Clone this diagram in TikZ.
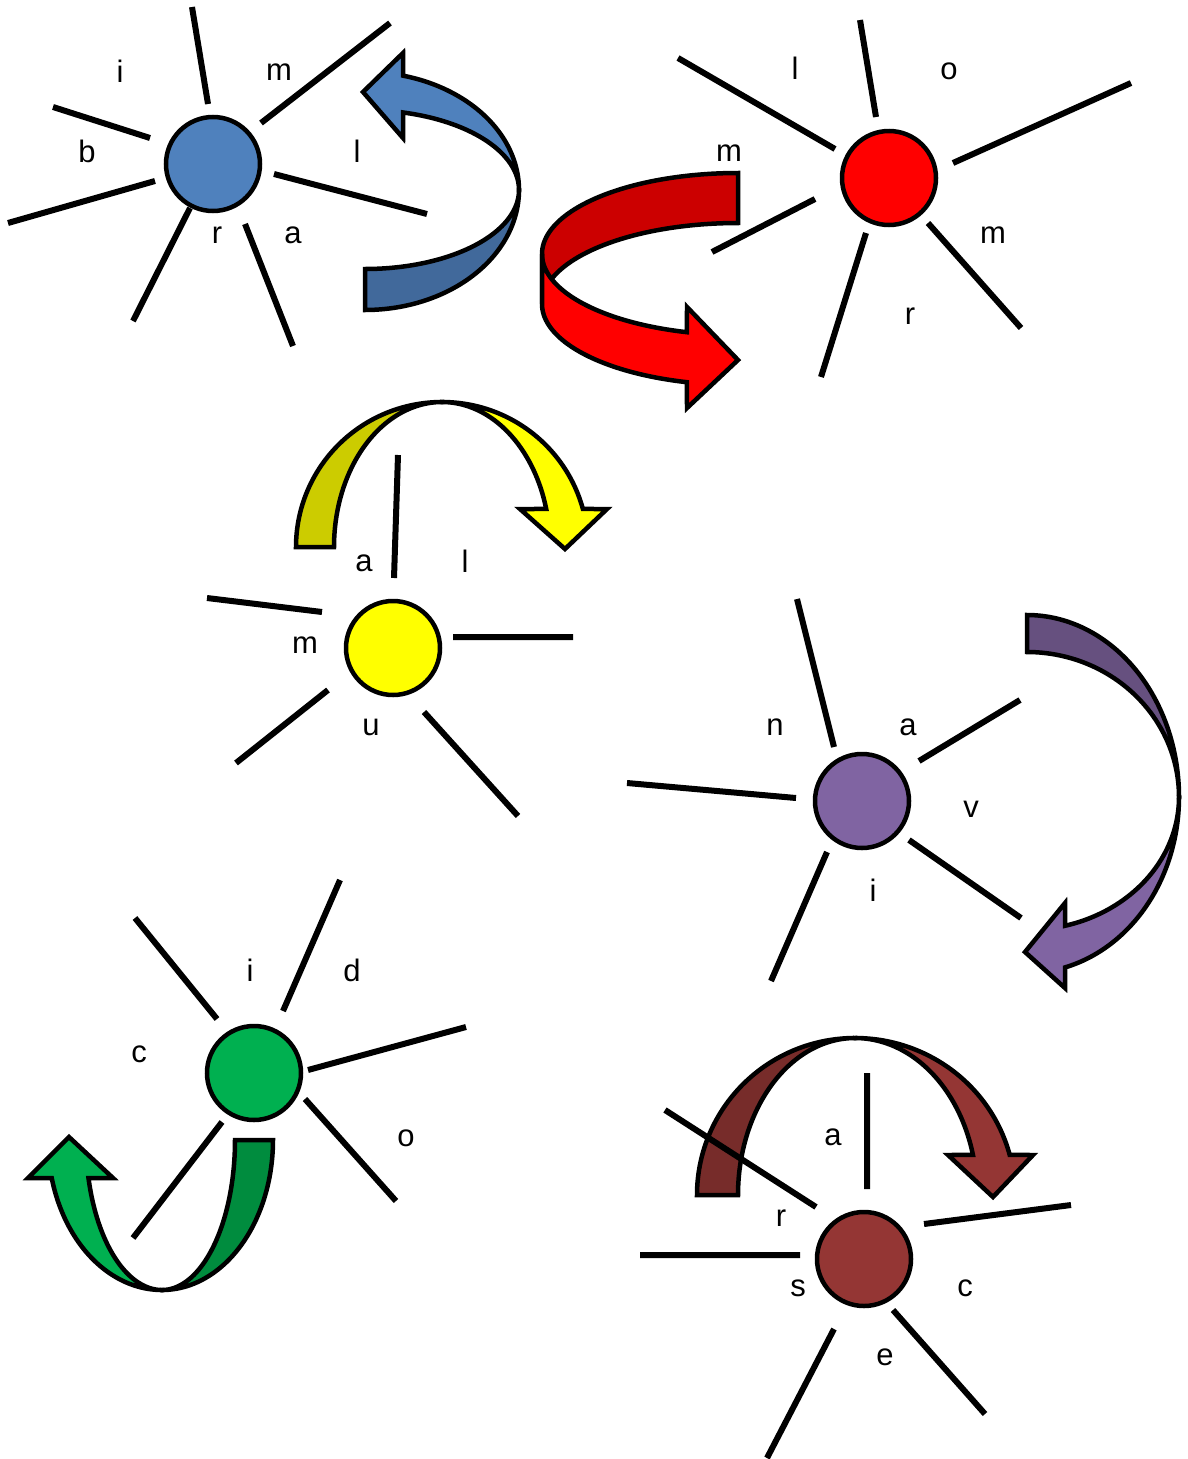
\documentclass[tikz,border=0pt]{standalone}
\usepackage{fontspec}
\setmainfont{Liberation Sans}
\definecolor{blueball}{HTML}{4F81BD}
\definecolor{bluedark}{HTML}{41699B}
\definecolor{redball}{HTML}{FF0000}
\definecolor{reddark}{HTML}{CC0000}
\definecolor{yellowball}{HTML}{FFFF00}
\definecolor{yellowdark}{HTML}{CCCC00}
\definecolor{purpleball}{HTML}{8064A2}
\definecolor{purpledark}{HTML}{66507F}
\definecolor{greenball}{HTML}{00B050}
\definecolor{greendark}{HTML}{008C3E}
\definecolor{brownball}{HTML}{943634}
\definecolor{browndark}{HTML}{772C2A}

\begin{document}
\begin{tikzpicture}[
  x=1pt, y=-1pt,
  font=\fontsize{31}{37}\selectfont,
  ball/.style={circle, draw=black, line width=4.5pt, minimum size=94pt, inner sep=0pt},
  spoke/.style={draw=black, line width=6pt},
  band/.style={draw=black, line width=4.5pt, samples=60},
  letter/.style={inner sep=0pt}
]
\useasboundingbox (0,0) rectangle (1187,1459);

% turning arrows (tail half darker, head half lighter)
\filldraw[band, fill=bluedark] plot[domain=0:90] ({365+154*cos(\x)},{190+120*sin(\x)})
  -- plot[domain=90:0] ({365+154*cos(\x)},{190+79*sin(\x)}) -- cycle;
\filldraw[band, fill=blueball] plot[domain=0:-75.7] ({365+154*cos(\x)},{190+118*sin(\x)})
  -- (403,53) -- (363,92) -- (403,138)
  -- plot[domain=-75.7:0] ({365+154*cos(\x)},{190+80*sin(\x)}) -- cycle;

\filldraw[band, fill=reddark] plot[domain=-90:-180] ({738+196*cos(\x)},{254+81*sin(\x)})
  -- plot[domain=-180:-90] ({738+196*cos(\x)},{304+81*sin(\x)}) -- cycle;
\filldraw[band, fill=redball] plot[domain=180:105.1] ({738+196*cos(\x)},{254+81*sin(\x)})
  -- (687,307) -- (738,360) -- (687,408)
  -- plot[domain=105.1:180] ({738+196*cos(\x)},{304+81*sin(\x)}) -- cycle;

\filldraw[band, fill=yellowdark] plot[domain=180:270] ({442+146*cos(\x)},{547+145*sin(\x)})
  -- plot[domain=270:180] ({442+108*cos(\x)},{547+145*sin(\x)}) -- cycle;
\filldraw[band, fill=yellowball] plot[domain=270:344.8] ({442+146*cos(\x)},{547+145*sin(\x)})
  -- (607,509) -- (565,549) -- (520,509)
  -- plot[domain=344.8:270] ({442+108*cos(\x)},{547+145*sin(\x)}) -- cycle;

\filldraw[band, fill=purpledark] plot[domain=-90:0] ({1027+152*cos(\x)},{797+182*sin(\x)})
  -- plot[domain=0:-90] ({1027+152*cos(\x)},{797+145*sin(\x)}) -- cycle;
\filldraw[band, fill=purpleball] plot[domain=0:75.5] ({1027+152*cos(\x)},{797+176*sin(\x)})
  -- (1065,988) -- (1025,952) -- (1065,903)
  -- plot[domain=75.5:0] ({1027+152*cos(\x)},{797+133*sin(\x)}) -- cycle;

\filldraw[band, fill=greendark] plot[domain=0:90] ({162+111*cos(\x)},{1140+150*sin(\x)})
  -- plot[domain=90:0] ({162+73*cos(\x)},{1140+150*sin(\x)}) -- cycle;
\filldraw[band, fill=greenball] plot[domain=90:165.3] ({162+114*cos(\x)},{1140+150*sin(\x)})
  -- (28,1178) -- (69,1137) -- (113,1178)
  -- plot[domain=165.3:90] ({162+76*cos(\x)},{1140+150*sin(\x)}) -- cycle;

\filldraw[band, fill=browndark] plot[domain=180:270] ({855+158*cos(\x)},{1195+157*sin(\x)})
  -- plot[domain=270:180] ({855+117*cos(\x)},{1195+157*sin(\x)}) -- cycle;
\filldraw[band, fill=brownball] plot[domain=270:345.2] ({855+160*cos(\x)},{1195+157*sin(\x)})
  -- (1033,1155) -- (993,1197) -- (948,1155)
  -- plot[domain=345.2:270] ({855+122*cos(\x)},{1195+157*sin(\x)}) -- cycle;

% balls
\node[ball, fill=blueball] (blue) at (213,164) {};
\node[ball, fill=redball] (red) at (889,178) {};
\node[ball, fill=yellowball] (yellow) at (393,648) {};
\node[ball, fill=purpleball] (purple) at (862,801) {};
\node[ball, fill=greenball] (green) at (254,1073) {};
\node[ball, fill=brownball] (brown) at (864,1259) {};

% spokes
\draw[spoke] (192,7) -- (208,104) (390,23) -- (261,123) (53,107) -- (150,138)
  (8,223) -- (155,181) (274,174) -- (427,214) (190,208) -- (133,321) (245,224) -- (293,346);
\draw[spoke] (860,20) -- (876,117) (678,58) -- (835,149) (1131,83) -- (953,163)
  (815,199) -- (712,252) (928,223) -- (1021,328) (866,233) -- (821,377);
\draw[spoke] (398,455) -- (394,578) (207,598) -- (322,612) (453,637) -- (573,637)
  (328,690) -- (236,763) (424,712) -- (518,816);
\draw[spoke] (797,599) -- (834,747) (627,783) -- (796,798) (1020,700) -- (919,761)
  (909,840) -- (1021,918) (827,852) -- (771,981);
\draw[spoke] (135,918) -- (217,1019) (340,880) -- (283,1011) (308,1070) -- (466,1027)
  (305,1099) -- (396,1201) (222,1122) -- (133,1238);
\draw[spoke] (867,1073) -- (867,1189) (665,1110) -- (816,1207) (924,1224) -- (1071,1205)
  (640,1255) -- (800,1255) (834,1329) -- (767,1458) (893,1310) -- (985,1414);

% letters
\node[letter] (blue-i) at (120,71) {i};
\node[letter] (blue-m) at (279,72) {m};
\node[letter] (blue-b) at (87,151) {b};
\node[letter] (blue-l) at (357,151) {l};
\node[letter] (blue-r) at (217,235) {r};
\node[letter] (blue-a) at (293,235) {a};

\node[letter] (red-l) at (795,68) {l};
\node[letter] (red-o) at (949,71) {o};
\node[letter] (red-m1) at (729,153) {m};
\node[letter] (red-m2) at (993,235) {m};
\node[letter] (red-r) at (910,316) {r};

\node[letter] (yellow-a) at (364,563) {a};
\node[letter] (yellow-l) at (465,561) {l};
\node[letter] (yellow-m) at (305,645) {m};
\node[letter] (yellow-u) at (371,727) {u};

\node[letter] (purple-n) at (775,727) {n};
\node[letter] (purple-a) at (908,727) {a};
\node[letter] (purple-v) at (971,809) {v};
\node[letter] (purple-i) at (873,890) {i};

\node[letter] (green-i) at (250,970) {i};
\node[letter] (green-d) at (352,970) {d};
\node[letter] (green-c) at (139,1054) {c};
\node[letter] (green-o) at (406,1138) {o};

\node[letter] (brown-a) at (833,1137) {a};
\node[letter] (brown-r) at (781,1218) {r};
\node[letter] (brown-s) at (798,1288) {s};
\node[letter] (brown-c) at (965,1288) {c};
\node[letter] (brown-e) at (885,1357) {e};

\end{tikzpicture}
\end{document}
